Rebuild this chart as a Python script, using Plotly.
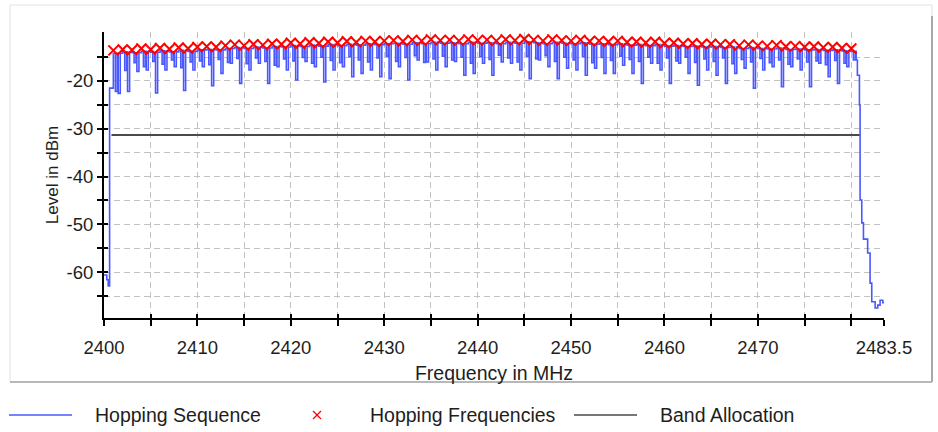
import plotly.graph_objects as go

# ---- measured data -------------------------------------------------------
# Hopping channels (MHz) and their detected peak level (dBm)
channels = list(range(2401, 2481))
hop_peak_db = [
    -13.6, -13.4, -13.5, -13.2, -13.4, -13.1, -13.3, -13.0, -13.2, -12.9,
    -12.8, -12.9, -12.6, -12.4, -12.6, -12.3, -12.5, -12.2, -12.3, -12.0,
    -12.2, -11.9, -12.1, -11.8, -12.0, -11.7, -11.9, -11.6, -11.8, -11.6,
    -11.5, -11.7, -11.4, -11.6, -11.3, -11.5, -11.4, -11.6, -11.3, -11.5,
    -11.4, -11.6, -11.3, -11.5, -11.2, -11.4, -11.6, -11.3, -11.5, -11.6,
    -11.4, -11.7, -11.6, -11.8, -11.6, -11.9, -11.8, -12.0, -11.8, -12.1,
    -12.0, -12.2, -12.1, -12.3, -12.2, -12.4, -12.3, -12.6, -12.4, -12.6,
    -12.7, -12.5, -12.8, -12.7, -12.9, -12.8, -13.0, -12.9, -13.1, -13.2,
]

# Swept trace: top level of each channel and the two notches that follow it
sweep_top_db = [
    -14.2, -13.9, -14.1, -13.8, -14.0, -13.7, -13.9, -13.6, -13.8, -13.5,
    -13.4, -13.5, -13.2, -13.0, -13.2, -12.9, -13.1, -12.8, -12.9, -12.6,
    -12.8, -12.5, -12.7, -12.4, -12.6, -12.3, -12.5, -12.2, -12.4, -12.2,
    -12.1, -12.3, -12.0, -12.2, -11.9, -12.1, -12.0, -12.2, -11.9, -12.1,
    -12.0, -12.2, -11.9, -12.1, -11.8, -12.0, -12.2, -11.9, -12.1, -12.2,
    -12.0, -12.3, -12.2, -12.4, -12.2, -12.5, -12.4, -12.6, -12.4, -12.7,
    -12.6, -12.8, -12.7, -12.9, -12.8, -13.0, -12.9, -13.2, -13.0, -13.2,
    -13.3, -13.1, -13.4, -13.3, -13.5, -13.4, -13.6, -13.5, -13.7, -13.8,
]
minor_dip_db = [
    -22.2, -17.8, -16.2, -17.0, -15.9, -16.5, -15.6, -17.2, -16.0, -15.8,
    -16.6, -15.5, -16.1, -15.3, -16.4, -15.2, -15.9, -16.7, -15.4, -15.8,
    -15.1, -16.3, -15.0, -15.7, -16.2, -14.9, -15.6, -16.0, -15.2, -14.8,
    -15.9, -15.1, -14.7, -16.1, -15.4, -14.8, -15.6, -15.0, -16.3, -14.9,
    -15.5, -14.6, -15.2, -16.0, -14.8, -15.4, -14.7, -15.9, -15.0, -15.6,
    -14.9, -16.2, -15.1, -15.7, -14.8, -15.5, -15.9, -15.0, -16.3, -15.2,
    -15.8, -15.0, -16.1, -15.4, -15.9, -15.2, -16.4, -15.5, -16.0, -15.3,
    -16.2, -15.6, -16.5, -15.4, -16.0, -15.8, -16.6, -15.7, -16.3, -15.6,
]
main_dip_db = [
    -22.6, -22.2, -18.0, -17.7, -22.5, -17.7, -17.0, -22.0, -17.7, -17.0,
    -21.0, -18.4, -16.3, -20.5, -17.7, -16.3, -20.5, -17.0, -17.7, -19.8,
    -15.9, -17.0, -20.2, -17.7, -17.0, -19.1, -18.4, -17.7, -19.1, -19.5,
    -17.0, -19.8, -15.6, -16.0, -17.7, -17.0, -15.9, -18.8, -18.4, -16.3,
    -18.8, -16.0, -16.3, -17.7, -19.5, -15.6, -17.0, -19.5, -17.3, -17.7,
    -18.8, -17.3, -18.4, -18.4, -16.7, -18.4, -20.5, -16.3, -17.7, -20.5,
    -16.3, -18.4, -20.9, -17.7, -18.8, -20.5, -18.4, -17.3, -21.5, -17.7,
    -17.0, -21.2, -17.0, -17.7, -21.2, -16.3, -19.1, -20.5, -17.0, -15.6,
]

# Lower band edge (noise floor and rise) and upper band edge roll-off
lead_freq = [2400.0, 2400.3, 2400.45, 2400.6]
lead_db = [-60.6, -61.6, -62.9, -21.5]
tail_freq = [2480.65, 2480.87, 2480.94, 2481.12, 2481.30, 2481.75, 2482.01,
             2482.19, 2482.55, 2482.83, 2483.08, 2483.37, 2483.5]
tail_db = [-18.8, -25.0, -44.9, -49.7, -53.1, -56.0, -62.3,
           -66.2, -67.5, -66.9, -65.9, -66.4, -66.4]

# Allocated band reference line
band_freq = [2400.8, 2480.9]
band_db = [-31.3, -31.3]

# Axis ticks
x_tick_vals = [2400, 2410, 2420, 2430, 2440, 2450, 2460, 2470, 2480, 2483.5]
x_tick_text = ["2400", "2410", "2420", "2430", "2440", "2450", "2460", "2470", "", "2483.5"]
x_minor_vals = [2405, 2415, 2425, 2435, 2445, 2455, 2465, 2475]
y_tick_vals = [-20, -30, -40, -50, -60]
y_tick_text = ["-20", "-30", "-40", "-50", "-60"]
y_minor_vals = [-15, -25, -35, -45, -55, -65]

X_RANGE = [2400, 2483.5]
Y_RANGE = [-69.6, -9.75]

# ---- assemble swept trace ------------------------------------------------
sweep_x = list(lead_freq)
sweep_y = list(lead_db)
for ch, top, minor, main in zip(channels, sweep_top_db, minor_dip_db, main_dip_db):
    for off, val in ((0.0, top), (0.22, minor), (0.42, top), (0.52, main), (0.74, top)):
        f = ch + off
        if f < tail_freq[0]:
            sweep_x.append(f)
            sweep_y.append(val)
sweep_x += tail_freq
sweep_y += tail_db

BLUE = "#4a58ff"
RED = "#ff0000"
BAND = "#4a4a4a"
TXT = "#1e1e1e"
GRID = "#c2c2c2"
FONT = "Liberation Sans, Arial, sans-serif"

fig = go.Figure()
fig.add_trace(go.Scatter(x=sweep_x, y=sweep_y, mode="lines", line_shape="hv",
                         line=dict(color=BLUE, width=1.6), name="Hopping Sequence",
                         showlegend=False))
fig.add_trace(go.Scatter(x=band_freq, y=band_db, mode="lines",
                         line=dict(color=BAND, width=2), name="Band Allocation",
                         showlegend=False))
fig.add_trace(go.Scatter(x=channels, y=hop_peak_db, mode="markers",
                         marker=dict(symbol="x-thin", size=10, color=RED,
                                     line=dict(color=RED, width=2)),
                         name="Hopping Frequencies", showlegend=False))
# empty trace so the overlay axes (inner half of the crossing ticks) exist
fig.add_trace(go.Scatter(x=[], y=[], xaxis="x2", yaxis="y2", showlegend=False,
                         hoverinfo="skip"))

tick_common = dict(tickwidth=2, tickcolor="black")
grid_common = dict(showgrid=True, gridcolor=GRID, gridwidth=1, griddash="6px,4px")

fig.update_layout(
    width=938, height=432,
    margin=dict(l=104, r=54, t=32, b=114),
    paper_bgcolor="white", plot_bgcolor="white",
    font=dict(family=FONT, size=18.5, color=TXT),
    xaxis=dict(range=X_RANGE, tickmode="array", tickvals=x_tick_vals, ticktext=x_tick_text,
               ticks="outside", ticklen=6, **tick_common, **grid_common,
               minor=dict(tickmode="array", tickvals=x_minor_vals, ticks="outside", ticklen=6,
                          **tick_common, **grid_common),
               showline=True, linecolor="black", linewidth=2, zeroline=False,
               ticklabelstandoff=6,
               title=dict(text="Frequency in MHz", standoff=9, font=dict(size=19.5, color=TXT))),
    yaxis=dict(range=Y_RANGE, tickmode="array", tickvals=y_tick_vals, ticktext=y_tick_text,
               ticks="outside", ticklen=5, **tick_common, **grid_common,
               minor=dict(tickmode="array", tickvals=y_minor_vals, ticks="outside", ticklen=5,
                          **tick_common, **grid_common),
               showline=True, linecolor="black", linewidth=2, zeroline=False,
               title=dict(text="Level in dBm", standoff=4, font=dict(size=17, color=TXT))),
    xaxis2=dict(range=X_RANGE, overlaying="x", anchor="y2", side="bottom",
                tickmode="array", tickvals=x_tick_vals, ticks="inside", ticklen=4,
                **tick_common, showticklabels=False, showgrid=False, showline=False,
                zeroline=False,
                minor=dict(tickmode="array", tickvals=x_minor_vals, ticks="inside", ticklen=4,
                           **tick_common, showgrid=False)),
    yaxis2=dict(range=Y_RANGE, overlaying="y", anchor="x2", side="left",
                tickmode="array", tickvals=y_tick_vals, ticks="inside", ticklen=4,
                **tick_common, showticklabels=False, showgrid=False, showline=False,
                zeroline=False,
                minor=dict(tickmode="array", tickvals=y_minor_vals, ticks="inside", ticklen=4,
                           **tick_common, showgrid=False)),
)

# ---- outer frame ---------------------------------------------------------
PL, PW, PB, PH = 104, 780, 318, 286  # plot-area origin/size in pixels


def px(xp):
    return (xp - PL) / PW


def py(yp):
    return (PB - yp) / PH


fig.add_shape(type="rect", xref="paper", yref="paper", layer="below",
              x0=px(10), x1=px(932), y0=py(382), y1=py(5),
              line=dict(color="#e2e2e2", width=1), fillcolor="rgba(0,0,0,0)")
fig.add_shape(type="line", xref="paper", yref="paper", x0=px(932), x1=px(932),
              y0=py(382), y1=py(16), line=dict(color="#a8a8a8", width=2))
fig.add_shape(type="line", xref="paper", yref="paper", x0=px(10), x1=px(932),
              y0=py(382), y1=py(382), line=dict(color="#b8b8b8", width=2))

# ---- legend row ----------------------------------------------------------
LEG_Y = 415
fig.add_shape(type="line", xref="paper", yref="paper", x0=px(9), x1=px(72),
              y0=py(LEG_Y), y1=py(LEG_Y), line=dict(color=BLUE, width=1.4))
fig.add_shape(type="line", xref="paper", yref="paper", x0=px(313), x1=px(321),
              y0=py(LEG_Y - 4), y1=py(LEG_Y + 4), line=dict(color=RED, width=1.3))
fig.add_shape(type="line", xref="paper", yref="paper", x0=px(313), x1=px(321),
              y0=py(LEG_Y + 4), y1=py(LEG_Y - 4), line=dict(color=RED, width=1.3))
fig.add_shape(type="line", xref="paper", yref="paper", x0=px(574), x1=px(637),
              y0=py(LEG_Y), y1=py(LEG_Y), line=dict(color=BAND, width=1.6))
for label, left in (("Hopping Sequence", 93), ("Hopping Frequencies", 368),
                    ("Band Allocation", 658)):
    fig.add_annotation(text=label, xref="paper", yref="paper", x=px(left), y=py(LEG_Y),
                       xanchor="left", yanchor="middle", showarrow=False,
                       font=dict(family=FONT, size=19.5, color=TXT))

fig.write_html("out.html")
